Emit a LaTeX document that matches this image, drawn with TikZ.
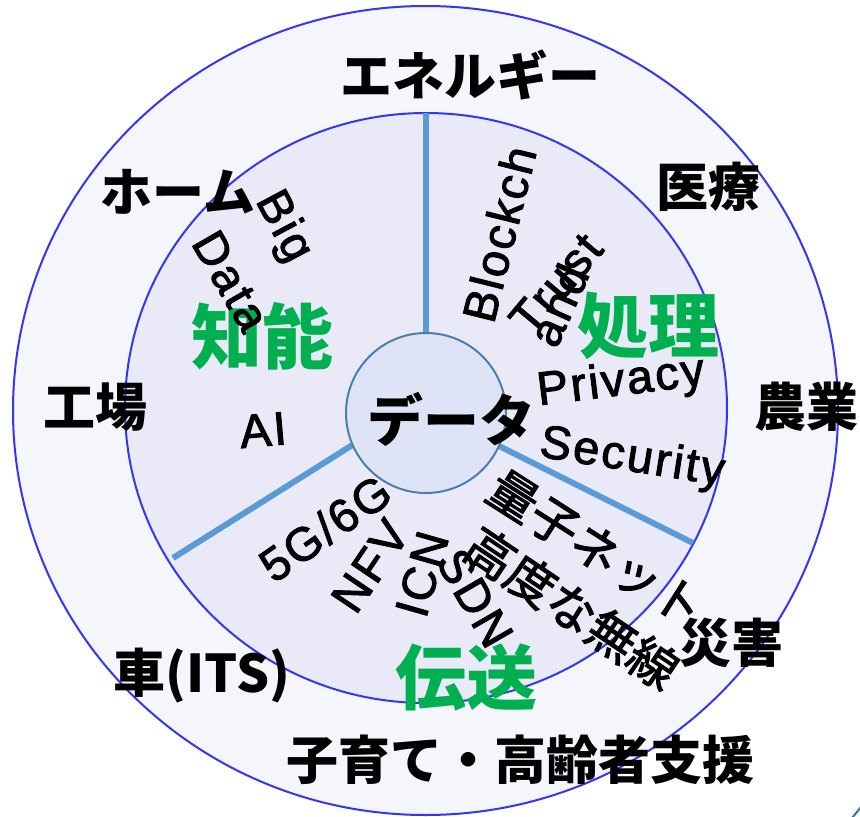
\documentclass[tikz,border=0pt]{standalone}
\usepackage{fontspec}
\newfontfamily\jpfont{Noto Sans CJK JP}
\newfontfamily\jpmedfont{Noto Sans CJK JP}[FakeBold=2]
\newfontfamily\latfont{Liberation Sans}[LetterSpace=5, FakeBold=2]
\definecolor{outerfill}{HTML}{F5F6FC}
\definecolor{innerfill}{HTML}{EAE9F8}
\definecolor{centerfill}{HTML}{DEE4F6}
\definecolor{ringline}{HTML}{3535F5}
\definecolor{centerline}{HTML}{4A7EAE}
\definecolor{spokecol}{HTML}{5B9BD5}
\definecolor{greentext}{HTML}{00B050}
\definecolor{tealfrag}{HTML}{2E75B6}
\begin{document}
\begin{tikzpicture}[x=1pt,y=-1pt,
  ringline/.style={draw=ringline, line width=2pt},
  spokeline/.style={draw=spokecol, line width=6pt},
  domlab/.style={inner sep=0pt, text=black, font=\jpfont\bfseries\fontsize{52}{52}\selectfont},
  layerlab/.style={inner sep=0pt, text=greentext, font=\jpfont\bfseries\fontsize{71}{71}\selectfont},
  techlab/.style={inner sep=0pt, text=black, font=\latfont\fontsize{47}{47}\selectfont},
  techjplab/.style={inner sep=0pt, text=black, font=\jpmedfont\fontsize{49}{49}\selectfont},
  corelab/.style={inner sep=0pt, text=black, font=\jpfont\bfseries\fontsize{56}{56}\selectfont}
]
\useasboundingbox (0,0) rectangle (860,817);
\fill[white] (0,0) rectangle (860,817);

% rings
\coordinate (c0) at (425.5,410.5);
\coordinate (c1) at (426,408);
\path[ringline, fill=outerfill] (c0) ellipse [x radius=412.5pt, y radius=404.5pt];
\path[ringline, fill=innerfill] (c1) ellipse [x radius=301pt, y radius=295pt];

% spokes
\coordinate (s1a) at (426,333);
\coordinate (s1b) at (426,113);
\coordinate (s2a) at (354,444);
\coordinate (s2b) at (173,558);
\coordinate (s3a) at (499,446);
\coordinate (s3b) at (693,543);
\draw[spokeline] (s1a) -- (s1b);
\draw[spokeline] (s2a) -- (s2b);
\draw[spokeline] (s3a) -- (s3b);

% center
\node[circle, draw=centerline, line width=2pt, fill=centerfill, minimum size=160pt, inner sep=0pt] (ctr) at (426,413) {};

% outer domains
\node[domlab] (energy) at (470,75) {エネルギー};
\node[domlab] (med) at (708,187) {医療};
\node[domlab] (home) at (178,192) {ホーム};
\node[domlab] (factory) at (95,407) {工場};
\node[domlab] (agri) at (806,407) {農業};
\node[domlab] (car) at (202,676) {車(ITS)};
\node[domlab] (care) at (520,760) {子育て・高齢者支援};
\node[domlab] (disaster) at (731,643) {災害};

% layers
\node[layerlab] (chino) at (262,336) {知能};
\node[layerlab] (shori) at (648,326) {処理};
\node[layerlab] (densou) at (466,677) {伝送};

% techs
\node[techlab, rotate=-62] (big) at (283,227) {Big};
\node[techlab, rotate=-60] (data) at (231,281) {Data};
\node[techlab, rotate=5] (ai) at (263,430) {AI};
\node[techlab, rotate=76] (block) at (499,234) {Blockch};
\node[techlab, rotate=50] (trust) at (556,284) {Trust};
\node[techlab, rotate=66] (and) at (558,305) {and};
\node[techlab, rotate=7] (privacy) at (621,383) {Privacy};
\node[techlab, rotate=-9] (security) at (632,459) {Security};
\node[techlab, rotate=35] (g56) at (325,528) {5G/6G};
\node[techlab, rotate=56] (nfv) at (370,566) {NFV};
\node[techlab, rotate=74] (icn) at (422,574) {ICN};
\node[techlab, rotate=-60] (sdn) at (475,598) {SDN};
\node[techjplab, rotate=-32.5] (quantum) at (596,549) {量子ネット};
\node[techjplab, rotate=-34] (wireless) at (572,608) {高度な無線};

% core label
\node[corelab] (datalabel) at (451,419) {データ};

% small fragment at the corner
\coordinate (fa) at (852,818);
\coordinate (fb) at (861,807);
\draw[tealfrag, line width=2pt] (fa) -- (fb);
\end{tikzpicture}
\end{document}
